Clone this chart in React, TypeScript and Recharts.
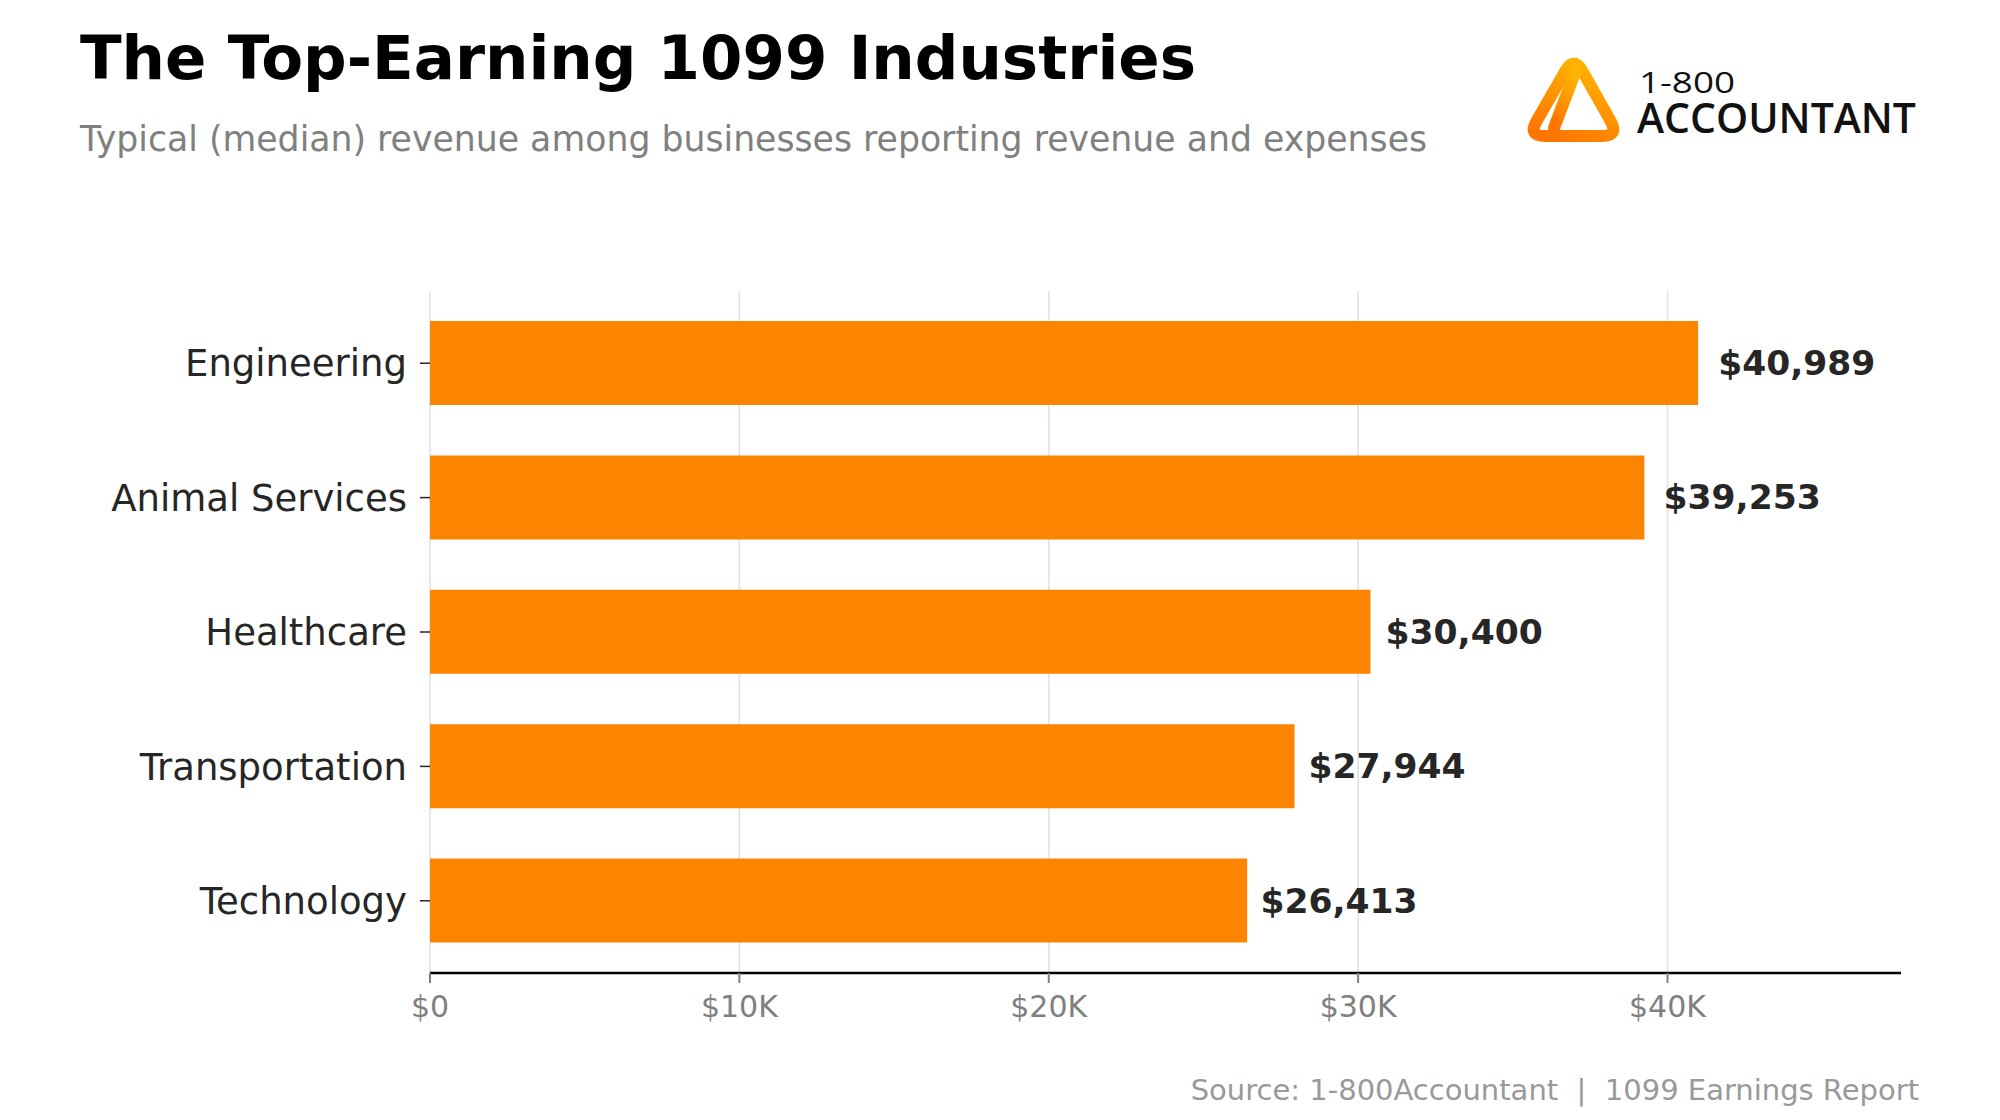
import React from "react";
import { BarChart, Bar, XAxis, YAxis, ReferenceLine, LabelList } from "recharts";

const industries = ["Engineering", "Animal Services", "Healthcare", "Transportation", "Technology"];
const revenue = [40989, 39253, 30400, 27944, 26413];
const xTicks = [0, 10000, 20000, 30000, 40000];
const X_MAX = 47547;

const data = industries.map((name, i) => ({ name, value: revenue[i] }));

const FONT = "'DejaVu Sans', sans-serif";
const ORANGE = "#fb8500";

const money = (v: number) => `$${Number(v).toLocaleString("en-US")}`;
const kTick = (v: number) => (v === 0 ? "$0" : `$${v / 1000}K`);

// value label sits just past the bar end (1.5% of the value further out)
const ValueLabel = (props: any) => {
  const { x, y, width, height, value } = props;
  return (
    <text
      x={x + width * 1.015 + 1}
      y={y + height / 2}
      dominantBaseline="central"
      fill="#262626"
      fontSize={34.5}
      fontWeight="bold"
      fontFamily={FONT}
    >
      {money(value)}
    </text>
  );
};

// rounded polygon for the logo outline
function roundedPoly(pts: number[][], r: number) {
  let d = "";
  const n = pts.length;
  for (let i = 0; i < n; i++) {
    const p = pts[i];
    const prev = pts[(i - 1 + n) % n];
    const next = pts[(i + 1) % n];
    const l1 = Math.hypot(prev[0] - p[0], prev[1] - p[1]);
    const l2 = Math.hypot(next[0] - p[0], next[1] - p[1]);
    const a = [p[0] + ((prev[0] - p[0]) * r) / l1, p[1] + ((prev[1] - p[1]) * r) / l1];
    const b = [p[0] + ((next[0] - p[0]) * r) / l2, p[1] + ((next[1] - p[1]) * r) / l2];
    d += `${i === 0 ? "M" : "L"}${a[0]} ${a[1]} Q${p[0]} ${p[1]} ${b[0]} ${b[1]} `;
  }
  return d + "Z";
}

function Logo() {
  return (
    <g>
      <defs>
        <linearGradient id="logoGrad" x1="0.7" y1="0" x2="0.2" y2="1">
          <stop offset="0%" stopColor="#ffb400" />
          <stop offset="100%" stopColor="#ff7500" />
        </linearGradient>
      </defs>
      <g fill="none" stroke="url(#logoGrad)" strokeWidth={12} strokeLinecap="round" strokeLinejoin="round">
        <path d={roundedPoly([[1574, 56], [1528, 136], [1619, 136]], 17)} />
        <path d="M1576 70 L1554 128" />
        <path d="M1562 111 L1603 111" />
      </g>
      <text x={1639} y={93} fontFamily="'Open Sans', sans-serif" fontSize={30} fill="#111" textLength={96} lengthAdjust="spacingAndGlyphs">
        1-800
      </text>
      <text x={1637} y={133} fontFamily="'Open Sans', sans-serif" fontWeight={600} fontSize={41} fill="#111" textLength={279} lengthAdjust="spacingAndGlyphs">
        ACCOUNTANT
      </text>
    </g>
  );
}

export default function App() {
  return (
    <div style={{ position: "absolute", left: 0, top: 0, width: 2000, height: 1120, background: "#fff" }}>
      <BarChart
        width={2000}
        height={1120}
        data={data}
        layout="vertical"
        margin={{ top: 291, right: 99, bottom: 87, left: 0 }}
      >
        <XAxis
          type="number"
          domain={[0, X_MAX]}
          ticks={xTicks}
          tickFormatter={kTick}
          height={60}
          axisLine={{ stroke: "#000", strokeWidth: 2.4 }}
          tickLine={{ stroke: "#808080", strokeWidth: 2 }}
          tickSize={10}
          tickMargin={13}
          tick={{ fill: "#808080", fontSize: 30, fontFamily: FONT }}
        />
        <YAxis
          type="category"
          dataKey="name"
          width={430}
          axisLine={false}
          tickLine={{ stroke: "#262626", strokeWidth: 1.5 }}
          tickSize={10}
          tickMargin={13}
          padding={{ top: 5, bottom: 5 }}
          tick={{ fill: "#262626", fontSize: 37, fontFamily: FONT }}
        />
        {xTicks.map((t) => (
          <ReferenceLine key={t} x={t} stroke="#e2e2e2" strokeWidth={1.6} zIndex={-1} />
        ))}
        <Bar dataKey="value" fill={ORANGE} barSize={84} isAnimationActive={false}>
          <LabelList dataKey="value" content={ValueLabel} />
        </Bar>
      </BarChart>
      <svg width={2000} height={1120} style={{ position: "absolute", left: 0, top: 0, pointerEvents: "none" }}>
        <text x={80} y={79} fontFamily={FONT} fontWeight="bold" fontSize={61} fill="#000">
          The Top-Earning 1099 Industries
        </text>
        <text x={80} y={151} fontFamily={FONT} fontSize={34.7} fill="#808080">
          Typical (median) revenue among businesses reporting revenue and expenses
        </text>
        <text x={1919} y={1100} textAnchor="end" fontFamily={FONT} fontSize={29} fill="#999999" style={{ whiteSpace: "pre" }}>
          {"Source: 1-800Accountant  |  1099 Earnings Report"}
        </text>
        <Logo />
      </svg>
    </div>
  );
}
